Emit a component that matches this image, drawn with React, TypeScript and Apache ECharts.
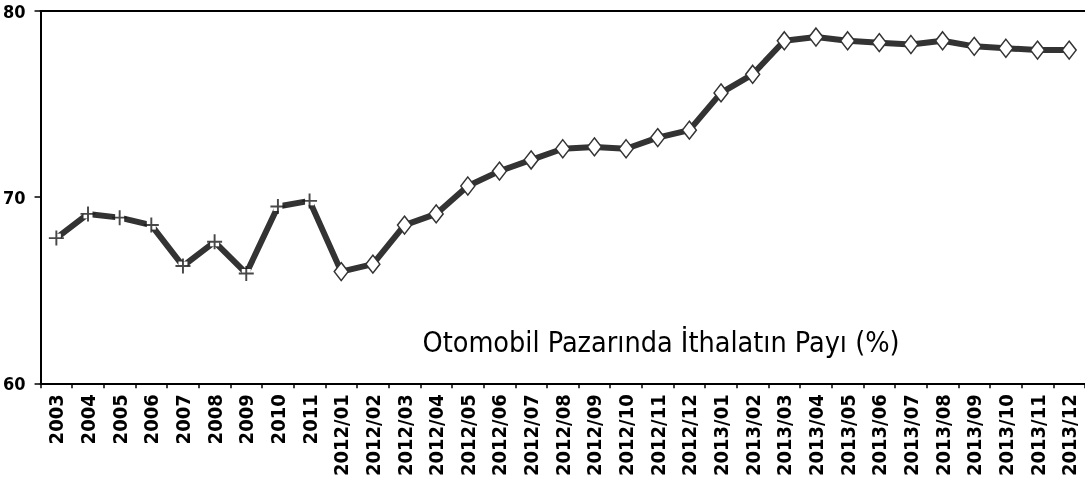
import React, { useEffect, useRef } from "react";
import * as echarts from "echarts";

const categories = [
  "2003", "2004", "2005", "2006", "2007", "2008", "2009", "2010", "2011",
  "2012/01", "2012/02", "2012/03", "2012/04", "2012/05", "2012/06",
  "2012/07", "2012/08", "2012/09", "2012/10", "2012/11", "2012/12",
  "2013/01", "2013/02", "2013/03", "2013/04", "2013/05", "2013/06",
  "2013/07", "2013/08", "2013/09", "2013/10", "2013/11", "2013/12",
];

const importShare = [
  67.8, 69.1, 68.9, 68.5, 66.3, 67.6, 65.9, 69.5, 69.8,
  66.0, 66.4, 68.5, 69.1, 70.6, 71.4, 72.0, 72.6, 72.7, 72.6, 73.2, 73.6,
  75.6, 76.6, 78.4, 78.6, 78.4, 78.3, 78.2, 78.4, 78.1, 78.0, 77.9, 77.9,
];

const yearlyCount = 9; // 2003..2011 are annual values (plus markers)
const yTicks = { min: 60, max: 80, interval: 10 };
const titleText = "Otomobil Pazarında İthalatın Payı (%)";

const FONT = "'DejaVu Sans Condensed', 'DejaVu Sans', sans-serif";
const DARK = "#333333";

export default function App() {
  const ref = useRef<HTMLDivElement>(null);

  useEffect(() => {
    if (!ref.current) return;
    const chart = echarts.init(ref.current, null, { renderer: "svg" });
    const plus = "path://M6.1,0h1.8v14h-1.8zM0,6.1h14v1.8h-14z";

    const lineData = importShare.map((v, i) =>
      i < yearlyCount
        ? { value: v, symbol: "rect", symbolSize: 9, itemStyle: { color: "#ffffff", borderWidth: 0 } }
        : {
            value: v,
            symbol: "diamond",
            symbolSize: [14, 18],
            itemStyle: { color: "#ffffff", borderColor: DARK, borderWidth: 1.5 },
          }
    );
    const plusData = importShare.map((v, i) => (i < yearlyCount ? v : "-"));

    chart.setOption({
      animation: false,
      grid: { left: 40, top: 11, width: 1053, height: 374 },
      xAxis: [
        {
          type: "category",
          data: categories,
          boundaryGap: true,
          axisLine: { show: true, lineStyle: { color: "#000", width: 2 } },
          axisTick: { show: true, length: 5, alignWithLabel: false, interval: 0, lineStyle: { color: "#000", width: 1.5 } },
          axisLabel: {
            rotate: 90,
            interval: 0,
            margin: 11,
            color: "#000",
            fontFamily: FONT,
            fontWeight: "bold",
            fontSize: 20,
          },
          splitLine: { show: false },
        },
        {
          type: "category",
          position: "top",
          data: categories,
          axisLine: { show: true, lineStyle: { color: "#000", width: 2 } },
          axisTick: { show: false },
          axisLabel: { show: false },
          splitLine: { show: false },
        },
      ],
      yAxis: {
        type: "value",
        min: yTicks.min,
        max: yTicks.max,
        interval: yTicks.interval,
        axisLine: { show: true, lineStyle: { color: "#000", width: 2 } },
        axisTick: { show: true, inside: false, length: 6, lineStyle: { color: "#000", width: 1.5 } },
        axisLabel: {
          margin: 15,
          color: "#000",
          fontFamily: FONT,
          fontWeight: "bold",
          fontSize: 18,
        },
        splitLine: { show: false },
      },
      series: [
        {
          type: "line",
          data: lineData,
          lineStyle: { color: DARK, width: 6 },
          itemStyle: { color: DARK },
          z: 2,
        },
        {
          type: "scatter",
          data: plusData,
          symbol: plus,
          symbolSize: 15,
          itemStyle: { color: "#1a1a1a" },
          z: 3,
        },
      ],
      graphic: [
        {
          type: "text",
          x: 661,
          y: 342,
          style: {
            text: titleText,
            fill: "#000",
            font: `28.5px ${FONT}`,
            textAlign: "center",
            textVerticalAlign: "middle",
          },
        },
      ],
    });
    return () => chart.dispose();
  }, []);

  return <div ref={ref} style={{ position: "fixed", left: 0, top: 0, width: 1085, height: 479 }} />;
}
